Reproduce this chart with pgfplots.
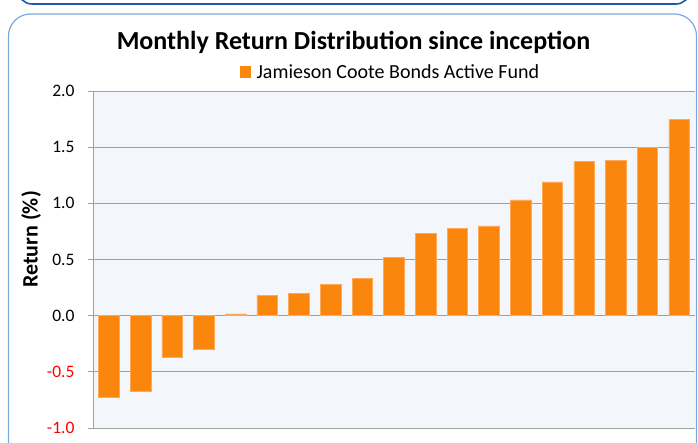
\documentclass[border=0pt]{standalone}
\usepackage{fontspec}
\setmainfont{Carlito}
\usepackage{pgfplots}
\pgfplotsset{compat=1.18}
\definecolor{barorange}{RGB}{251,134,14}
\definecolor{plotbg}{RGB}{243,246,251}
\definecolor{gridgray}{RGB}{160,160,160}
\definecolor{framelight}{RGB}{120,170,222}
\definecolor{framedark}{RGB}{30,90,170}
\begin{document}
\begin{tikzpicture}[x=1pt,y=1pt]
\useasboundingbox (0,0) rectangle (698,442);
\begin{scope}
\clip (0,0) rectangle (698,442);
\draw[framelight, line width=1.2pt, rounded corners=22pt] (8.5,-30) rectangle (696.5,428);
\draw[framedark, line width=1.6pt, rounded corners=14pt] (18,460) -- (18,438) -- (690,438) -- (690,460);
\end{scope}
\node[font=\fontsize{26}{30}\selectfont\bfseries] at (353.5,400) {Monthly Return Distribution since inception};
\node[font=\fontsize{22}{26}\selectfont\bfseries, rotate=90] at (31,202.5) {Return (\%)};
\begin{axis}[
  at={(93pt,14pt)}, anchor=south west,
  scale only axis, width=602pt, height=337pt,
  xmin=0.5, xmax=19.5, ymin=-1, ymax=2,
  ytick={-1,-0.5,0,0.5,1,1.5,2},
  yticklabels={{\textcolor{red}{-1.0}},{\textcolor{red}{-0.5}},0.0,0.5,1.0,1.5,2.0},
  xtick=\empty,
  axis background/.style={fill=plotbg},
  axis x line*=bottom, axis y line*=left,
  axis line style={draw=gridgray, line width=1pt},
  ymajorgrids, grid style={gridgray, line width=1pt},
  major tick length=5pt,
  ytick style={draw=gridgray, line width=1pt},
  tick align=outside,
  yticklabel style={font=\fontsize{17.5}{20}\selectfont, xshift=-10pt},
  ybar, bar width=0.65, bar shift=0pt,
  legend style={at={(0.494,1)}, anchor=center, yshift=19pt, draw=none, fill=none,
    font=\fontsize{20}{24}\selectfont, inner sep=0pt},
  legend image code/.code={\fill[barorange, draw=none] (0pt,-6pt) rectangle (11pt,6pt); \path[draw=none, fill=none] (0pt,0pt) rectangle (15pt,0.1pt);},
]
\addplot[fill=barorange, draw=barorange!70!white, line width=0.6pt] coordinates {
(1,-0.73) (2,-0.67) (3,-0.375) (4,-0.30) (5,0.015) (6,0.18) (7,0.195) (8,0.28)
(9,0.33) (10,0.52) (11,0.73) (12,0.775) (13,0.80) (14,1.03) (15,1.19) (16,1.37)
(17,1.38) (18,1.50) (19,1.75)};
\addlegendentry{Jamieson Coote Bonds Active Fund}
\end{axis}
\end{tikzpicture}
\end{document}
